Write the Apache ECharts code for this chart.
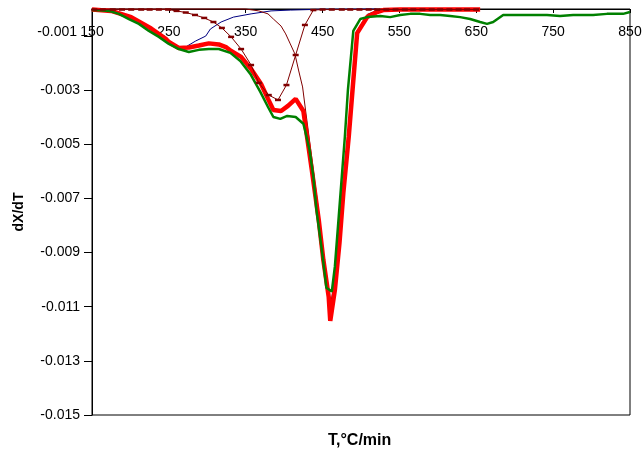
<!DOCTYPE html>
<html lang="en">
<head>
  <meta charset="UTF-8">
  <title>dX/dT</title>
  <style type="text/css">
    html, body { margin: 0; padding: 0; background: #fff; }
    #chart { width: 642px; height: 453px; }
  </style>
</head>
<body>
  <div id="chart"></div>
  <script src="https://cdn.jsdelivr.net/npm/echarts@6/dist/echarts.min.js"></script>
  <script>
    // measured curve (red)
    const redT = [150, 175, 201, 227, 246, 250, 263, 276, 289, 302, 315, 325, 331, 344, 357, 370, 379, 386, 396, 405, 415, 425, 436, 445, 451, 458, 460, 466, 472, 477, 484, 495, 508, 521, 529, 551, 655]
    const redY = [-0.00002, -0.00007, -0.0003, -0.00072, -0.0011, -0.00122, -0.00144, -0.00142, -0.00135, -0.00127, -0.00131, -0.00142, -0.00155, -0.00177, -0.00222, -0.00277, -0.00332, -0.00373, -0.00377, -0.00358, -0.00332, -0.00377, -0.00595, -0.00779, -0.00927, -0.01064, -0.01152, -0.01038, -0.00864, -0.0068, -0.00473, -0.00089, -0.0003, -0.00011, -0.00004, -0.00002, -0.00002]

    // fitted curve (green)
    const greenT = [150, 160, 172, 185, 198, 211, 224, 237, 250, 263, 276, 289, 302, 315, 330, 343, 356, 369, 379, 386, 395, 404, 415, 425, 427, 433, 438, 442, 449, 455, 462, 466, 471, 475, 479, 483, 490, 499, 508, 525, 538, 551, 564, 577, 590, 603, 616, 629, 642, 655, 664, 672, 685, 703, 720, 742, 759, 776, 802, 820, 841, 850]
    const greenY = [-0.00004, -0.00005, -0.00007, -0.00018, -0.00037, -0.00055, -0.00081, -0.00103, -0.00129, -0.00148, -0.00159, -0.00151, -0.00148, -0.00148, -0.00162, -0.00192, -0.0024, -0.00306, -0.00362, -0.00399, -0.00406, -0.00395, -0.00399, -0.00424, -0.00446, -0.0052, -0.0062, -0.00742, -0.0089, -0.0103, -0.01044, -0.00952, -0.00768, -0.0062, -0.00472, -0.00299, -0.00081, -0.00037, -0.0003, -0.00026, -0.0003, -0.00022, -0.00018, -0.00018, -0.00022, -0.00022, -0.00026, -0.0003, -0.00037, -0.00048, -0.00055, -0.00048, -0.00022, -0.00022, -0.00022, -0.00022, -0.00026, -0.00022, -0.00022, -0.00018, -0.00018, -0.00011]

    // component 1 (blue)
    const peak1T = [150, 175, 201, 227, 246, 263, 272, 285, 298, 304, 318, 334, 357, 383, 408, 447, 520]
    const peak1Y = [0, -0.00006, -0.0003, -0.00075, -0.0012, -0.00142, -0.0014, -0.00118, -0.001, -0.00074, -0.00048, -0.0003, -0.00018, -0.00007, -0.00004, -0.00001, 0]

    // component 2 (dark red, dash markers)
    const peak2T = [153, 164, 177, 189, 201, 214, 225, 237, 249, 260, 272, 284, 296, 308, 319, 331, 344, 357, 367, 380, 392, 403, 415, 427, 438, 450, 462, 475, 486, 498, 510, 521, 533, 545, 557, 568, 580, 592, 603, 615, 627, 638, 650]
    const peak2Y = [-0.00002, -0.00002, -0.00002, -0.00002, -0.00002, -0.00002, -0.00002, -0.00002, -0.00002, -0.00007, -0.00013, -0.00022, -0.00033, -0.00048, -0.0007, -0.00103, -0.00148, -0.00207, -0.00273, -0.00318, -0.00336, -0.00281, -0.0017, -0.00059, -0.00004, -0.00002, -0.00002, -0.00002, -0.00002, -0.00002, -0.00002, -0.00002, -0.00002, -0.00002, -0.00002, -0.00002, -0.00002, -0.00002, -0.00002, -0.00002, -0.00002, -0.00002, -0.00002]

    // component 3 (dark red line)
    const peak3T = [150, 350, 367, 379, 386, 396, 402, 408, 414, 419, 424, 428, 436, 445, 451, 458, 460, 466, 472, 477, 484, 495, 508, 525, 655]
    const peak3Y = [0, 0, -0.00007, -0.00018, -0.00037, -0.00063, -0.00092, -0.00129, -0.00166, -0.00229, -0.00288, -0.00377, -0.0055, -0.0075, -0.009, -0.0104, -0.011, -0.0099, -0.0083, -0.0065, -0.0044, -0.0008, -0.0002, 0, 0]

    const xTicks = { min: 150, max: 850, step: 100 }
    const yTicks = { min: -0.015, max: 0, step: 0.002 }

    const zip = (xs, ys) => xs.map((x, i) => [x, ys[i]])
    const font = 'Liberation Sans, Arial, sans-serif'

    const chart = echarts.init(document.getElementById('chart'))

    const lineSeries = (name, xs, ys, color, width, extra) => Object.assign({
      name,
      type: 'line',
      data: zip(xs, ys),
      showSymbol: false,
      symbol: 'none',
      clip: false,
      lineStyle: { color, width },
      itemStyle: { color }
    }, extra || {})

    chart.setOption({
      animation: false,
      backgroundColor: '#fff',
      grid: {
        left: 92,
        right: 12,
        top: 9,
        bottom: 38,
        show: true,
        borderColor: '#000',
        borderWidth: 1,
        outerBoundsMode: 'none'
      },
      xAxis: {
        type: 'value',
        position: 'top',
        min: xTicks.min,
        max: xTicks.max,
        interval: xTicks.step,
        axisLine: { show: true, onZero: false, lineStyle: { color: '#000', width: 1 } },
        axisTick: { show: true, inside: true, length: 4, lineStyle: { color: '#000' } },
        axisLabel: { inside: true, margin: 16, color: '#000', fontFamily: font, fontSize: 14 },
        splitLine: { show: false }
      },
      yAxis: {
        type: 'value',
        min: yTicks.min,
        max: yTicks.max,
        interval: yTicks.step,
        axisLine: { show: true, onZero: false, lineStyle: { color: '#000', width: 1 } },
        axisTick: { show: true, length: 8, lineStyle: { color: '#000' } },
        axisLabel: {
          margin: 12,
          color: '#000',
          fontFamily: font,
          fontSize: 14,
          showMaxLabel: false,
          formatter: v => {
            if (Math.abs(v) < 1e-9) return ''
            const s = v.toFixed(3)
            // top label sits a little higher, clear of the x labels
            return s === '-0.001' ? '{up|' + s + '}' : s
          },
          rich: {
            up: { fontFamily: font, fontSize: 14, color: '#000', padding: [0, 3, 7, 0] }
          }
        },
        splitLine: { show: false },
        name: 'dX/dT',
        nameLocation: 'middle',
        nameGap: 63,
        nameTextStyle: { color: '#000', fontFamily: font, fontSize: 14, fontWeight: 'bold' }
      },
      graphic: [{
        type: 'text',
        left: 328,
        top: 433,
        style: { text: 'T,°C/min', fill: '#000', font: 'bold 16px ' + font }
      }],
      series: [
        lineSeries('peak 1', peak1T, peak1Y, '#000080', 1),
        lineSeries('peak 3', peak3T, peak3Y, '#800000', 1),
        lineSeries('experiment', redT, redY, '#ff0000', 4.5),
        lineSeries('model', greenT, greenY, '#008000', 2.5),
        lineSeries('peak 2', peak2T, peak2Y, '#800000', 1, {
          showSymbol: true,
          symbol: 'rect',
          symbolSize: [6, 2.5]
        })
      ]
    })
  </script>
</body>
</html>
